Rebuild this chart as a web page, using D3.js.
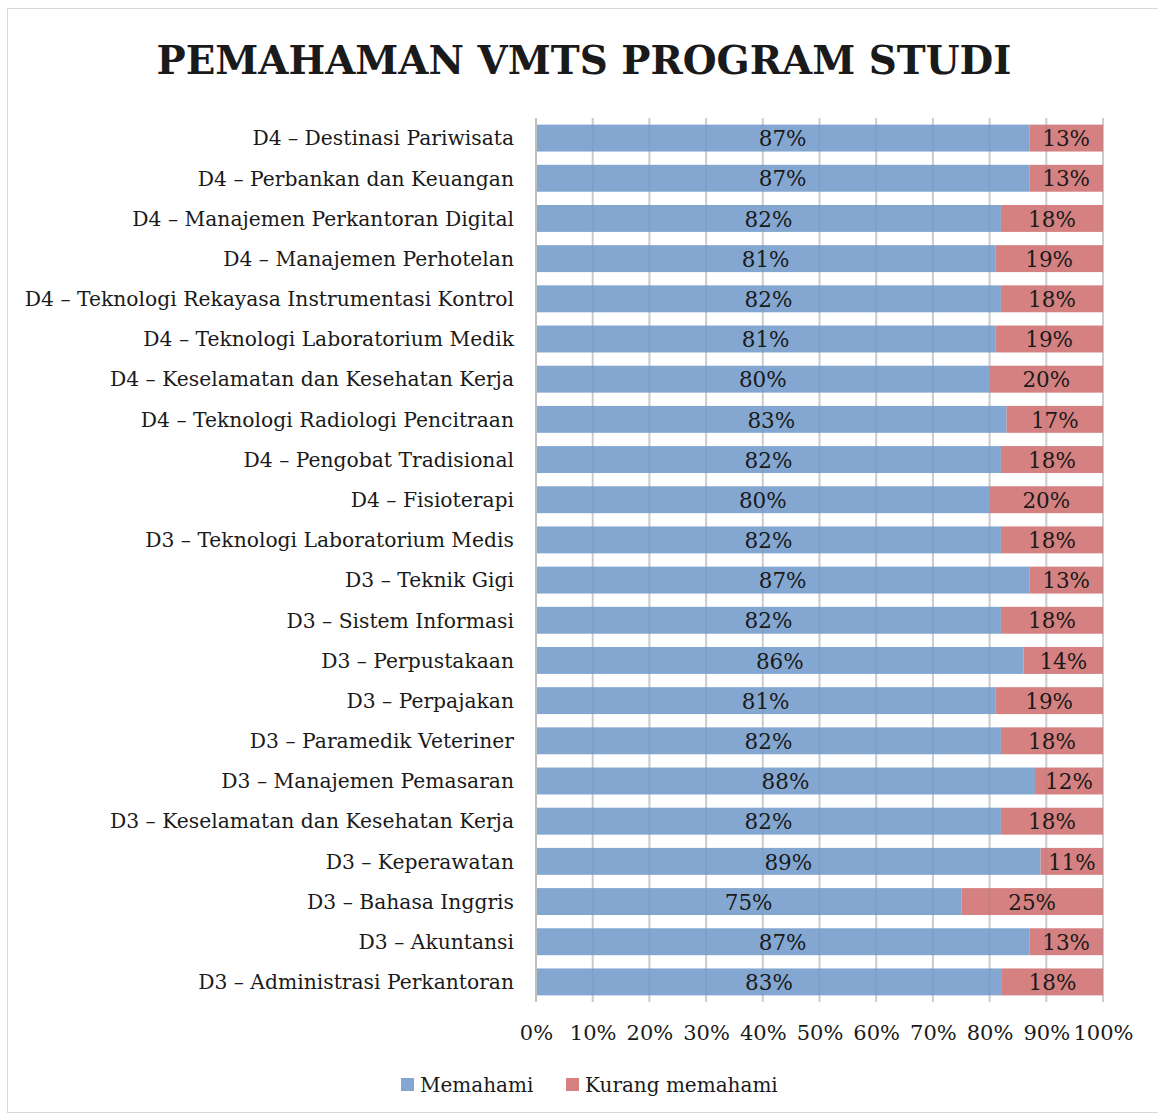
<!DOCTYPE html>
<meta charset="utf-8">
<title>Pemahaman VMTS</title>
<style>
  body { margin: 0; background: #fff; }
  svg text { font-family: "DejaVu Serif", serif; fill: #1a1a1a; }
</style>
<body>
<svg width="1158" height="1115"></svg>
<script src="https://cdnjs.cloudflare.com/ajax/libs/d3/7.8.5/d3.min.js"></script>
<script>
// data, top row first
var programs = [
  "D4 – Destinasi Pariwisata",
  "D4 – Perbankan dan Keuangan",
  "D4 – Manajemen Perkantoran Digital",
  "D4 – Manajemen Perhotelan",
  "D4 – Teknologi Rekayasa Instrumentasi Kontrol",
  "D4 – Teknologi Laboratorium Medik",
  "D4 – Keselamatan dan Kesehatan Kerja",
  "D4 – Teknologi Radiologi Pencitraan",
  "D4 – Pengobat Tradisional",
  "D4 – Fisioterapi",
  "D3 – Teknologi Laboratorium Medis",
  "D3 – Teknik Gigi",
  "D3 – Sistem Informasi",
  "D3 – Perpustakaan",
  "D3 – Perpajakan",
  "D3 – Paramedik Veteriner",
  "D3 – Manajemen Pemasaran",
  "D3 – Keselamatan dan Kesehatan Kerja",
  "D3 – Keperawatan",
  "D3 – Bahasa Inggris",
  "D3 – Akuntansi",
  "D3 – Administrasi Perkantoran"
];
var memahami = [87, 87, 82, 81, 82, 81, 80, 83, 82, 80, 82, 87, 82, 86, 81, 82, 88, 82, 89, 75, 87, 83];
var kurang   = [13, 13, 18, 19, 18, 19, 20, 17, 18, 20, 18, 13, 18, 14, 19, 18, 12, 18, 11, 25, 13, 18];
var seriesNames = ["Memahami", "Kurang memahami"];
var colors = ["#83a7d1", "#d58181"];
var tickValues = [0, .1, .2, .3, .4, .5, .6, .7, .8, .9, 1];

var rows = programs.map(function(p, i) {
  return { program: p, Memahami: memahami[i], "Kurang memahami": kurang[i] };
});

var svg = d3.select("svg");

// chart frame
svg.append("rect")
  .attr("x", 7.5).attr("y", 8.5)
  .attr("width", 1160).attr("height", 1104)
  .attr("fill", "none").attr("stroke", "#d9d9d9");

svg.append("text")
  .attr("x", 584).attr("y", 74)
  .attr("text-anchor", "middle")
  .style("font-size", "39px").style("font-weight", "bold")
  .attr("textLength", 855).attr("lengthAdjust", "spacingAndGlyphs")
  .text("PEMAHAMAN VMTS PROGRAM STUDI");

var x = d3.scaleLinear().domain([0, 1]).range([536, 1103]);
var y = d3.scaleBand().domain(programs).range([118, 1002]).paddingInner(0.33).paddingOuter(0.165);

// gridlines under bars
svg.append("g")
  .selectAll("line").data(tickValues.slice(1)).join("line")
  .attr("x1", function(d) { return x(d); }).attr("x2", function(d) { return x(d); })
  .attr("y1", 118).attr("y2", 1002)
  .attr("stroke", "#d9d9d9").attr("stroke-width", 2);

var stack = d3.stack().keys(seriesNames).offset(d3.stackOffsetExpand);
var layers = stack(rows);

var layer = svg.append("g").selectAll("g").data(layers).join("g")
  .attr("fill", function(d, i) { return colors[i]; });

layer.selectAll("rect").data(function(d) { return d; }).join("rect")
  .attr("x", function(d) { return x(d[0]); })
  .attr("width", function(d) { return x(d[1]) - x(d[0]); })
  .attr("y", function(d) { return y(d.data.program); })
  .attr("height", y.bandwidth());

// faint gridlines showing through the bars
svg.append("g")
  .selectAll("line").data(tickValues.slice(1)).join("line")
  .attr("x1", function(d) { return x(d); }).attr("x2", function(d) { return x(d); })
  .attr("y1", 118).attr("y2", 1002)
  .attr("stroke", "#5a7090").attr("stroke-opacity", 0.12).attr("stroke-width", 2);

// value labels
layers.forEach(function(l) {
  svg.append("g").selectAll("text").data(l).join("text")
    .attr("x", function(d) { return (x(d[0]) + x(d[1])) / 2; })
    .attr("y", function(d) { return y(d.data.program) + y.bandwidth() / 2; })
    .attr("dy", "0.38em")
    .attr("text-anchor", "middle")
    .style("font-size", "21.5px")
    .text(function(d) { return d.data[l.key] + "%"; });
});

// category axis
var yAxis = svg.append("g")
  .attr("transform", "translate(536,0)")
  .call(d3.axisLeft(y).tickSize(0).tickPadding(22));
yAxis.select(".domain").attr("stroke", "#bfbfbf").attr("stroke-width", 2)
  .attr("d", "M0,118V1002");
yAxis.selectAll("text").style("font-size", "20.3px").attr("dy", "0.36em");

// value axis
var xAxis = svg.append("g")
  .attr("transform", "translate(0,1002)")
  .call(d3.axisBottom(x).tickValues(tickValues).tickFormat(d3.format(".0%")).tickSize(0).tickPadding(23));
xAxis.select(".domain").remove();
xAxis.selectAll("text").style("font-size", "21px");

// legend
var legendX = [401, 566];
var legend = svg.append("g").selectAll("g").data(seriesNames).join("g")
  .attr("transform", function(d, i) { return "translate(" + legendX[i] + ",1078)"; });
legend.append("rect").attr("width", 13).attr("height", 13)
  .attr("fill", function(d, i) { return colors[i]; });
legend.append("text").attr("x", 19).attr("y", 7).attr("dy", "0.36em")
  .style("font-size", "20px")
  .text(function(d) { return d; });
</script>
</body>
